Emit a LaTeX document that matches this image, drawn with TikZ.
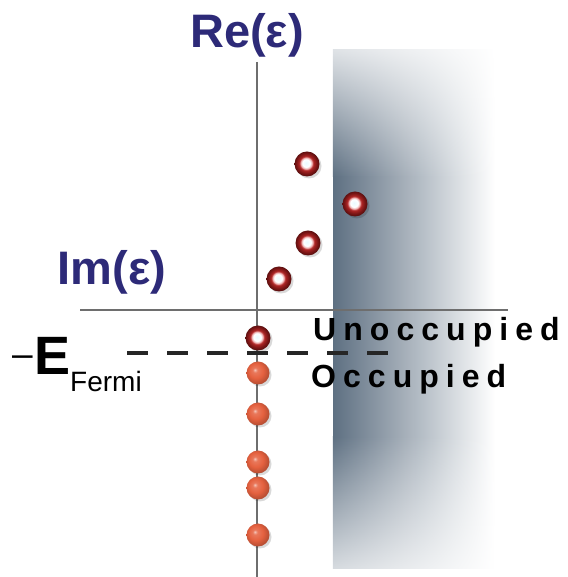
\documentclass[tikz,border=0pt]{standalone}
\usepackage{fontspec}
\setmainfont{Liberation Sans}
\newfontfamily\spacedfont[LetterSpace=22]{Liberation Sans}
\usetikzlibrary{fadings}
\definecolor{navy}{HTML}{2D2A78}
\definecolor{shadedark}{HTML}{5E7082}
\definecolor{axisgray}{HTML}{6E6E6E}
\definecolor{ringcenter}{HTML}{EAFBFF}
\definecolor{ringpink}{HTML}{E9A3A3}
\definecolor{ringred}{HTML}{B02626}
\definecolor{ringdark}{HTML}{761414}
\definecolor{ballred}{HTML}{E5613F}
\pgfdeclareradialshading{ringsh}{\pgfpoint{-2bp}{2bp}}{%
  color(0bp)=(ringcenter); color(8bp)=(white); color(11.5bp)=(ringpink);
  color(14bp)=(ringred); color(21bp)=(ringdark); color(25bp)=(ringdark!75!black);
  color(50bp)=(ringdark!75!black)}
\pgfdeclareradialshading{ballsh}{\pgfpoint{-7bp}{7bp}}{%
  color(0bp)=(white!65!ballred); color(5bp)=(ballred!85!white); color(16bp)=(ballred);
  color(27bp)=(ballred!80!black); color(34bp)=(ballred!55!black); color(50bp)=(ballred!55!black)}
\tikzfading[name=topfade, top color=transparent!80, bottom color=transparent!0]
\tikzfading[name=botfade, top color=transparent!0, bottom color=transparent!75]
\tikzset{
  axisline/.style={draw=axisgray, line width=1.1pt},
  fermiline/.style={draw=black!85, line width=3.6pt, dash pattern=on 21pt off 19pt},
  emptystate/.style={circle, inner sep=0pt, minimum size=25pt, shading=ringsh},
  fullstate/.style={circle, inner sep=0pt, minimum size=23pt, shading=ballsh},
  statedrop/.style={circle, inner sep=0pt, minimum size=25pt, fill=black, opacity=0.15},
  axislabel/.style={inner sep=0pt, text=navy, font=\fontsize{47}{52}\selectfont\bfseries},
  regionlabel/.style={inner sep=0pt, anchor=base west, font=\spacedfont\fontsize{32}{36}\selectfont\bfseries},
}
\begin{document}
\begin{tikzpicture}[x=1pt,y=1pt]
\useasboundingbox (0,0) rectangle (567,577);
% shaded region
\shade[left color=shadedark, right color=white, path fading=topfade] (333,400) rectangle (495,527);
\shade[left color=shadedark, right color=white] (333,140) rectangle (495,400);
\shade[left color=shadedark, right color=white, path fading=botfade] (333,8) rectangle (495,140);
% axes
\coordinate (vtop) at (257,515);
\coordinate (vbot) at (257,0);
\coordinate (hleft) at (80,267);
\coordinate (hright) at (508,267);
\draw[axisline] (vtop) -- (vbot);
\draw[axisline] (hleft) -- (hright);
% unoccupied states
\foreach \n/\x/\y in {o1/307/413, o2/355/373, o3/308/334, o4/279/298, o5/258/239}{
  \node[statedrop] at (\x+2,\y-2) {};
  \node[emptystate] (\n) at (\x,\y) {};
}
% occupied states
\foreach \n/\y in {f1/204, f2/163, f3/115, f4/89, f5/42}{
  \node[statedrop, minimum size=23pt] at (260,\y-2) {};
  \node[fullstate] (\n) at (258,\y) {};
}
% Fermi level
\coordinate (fl) at (127,224);
\coordinate (fr) at (392,224);
\draw[fermiline] (fl) -- (fr);
% labels
\node[axislabel, anchor=base] (re) at (247,529) {Re(ε)};
\node[axislabel, anchor=base] (im) at (112,292) {Im(ε)};
\node[inner sep=0pt, anchor=base west, font=\fontsize{37}{40}\selectfont] (dash) at (12,210) {–};
\node[inner sep=0pt, anchor=base west, font=\fontsize{54}{60}\selectfont\bfseries] (ef) at (34,202) {E};
\node[inner sep=0pt, anchor=base west, font=\fontsize{28}{31}\selectfont] (fermi) at (70,185) {Fermi};
\node[regionlabel] (unocc) at (313,236) {Unoccupied};
\node[regionlabel] (occ) at (311,189) {Occupied};
\end{tikzpicture}
\end{document}
